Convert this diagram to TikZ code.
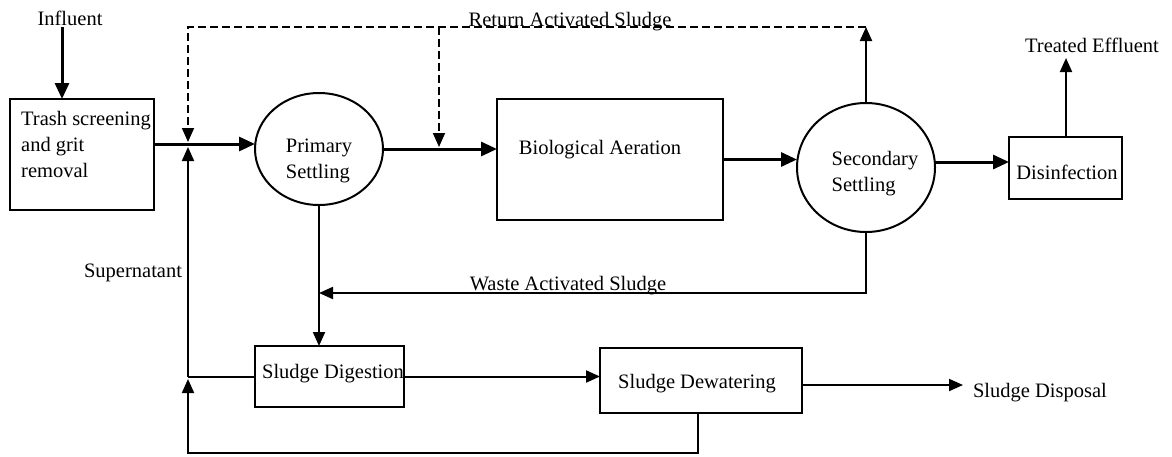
\documentclass[tikz,border=0pt]{standalone}
\usepackage{fontspec}
\setmainfont{Liberation Serif}
\usetikzlibrary{arrows.meta,shapes.geometric}
\begin{document}
\begin{tikzpicture}[x=1pt,y=-1pt,
  every node/.style={font=\fontsize{20.5}{26}\selectfont, inner sep=0pt, outer sep=0pt},
  box/.style={draw, line width=2pt, rectangle},
  tank/.style={draw, line width=2pt, ellipse},
  bigtip/.style={-{Triangle[length=16pt,width=14pt]}},
  smalltip/.style={-{Triangle[length=14pt,width=12pt]}},
  mainarrow/.style={line width=3pt, bigtip},
  mainline/.style={line width=3pt},
  thinarrow/.style={line width=2pt, smalltip},
  thinline/.style={line width=2pt},
  dashline/.style={line width=1.7pt, dash pattern=on 8pt off 4pt, smalltip}
]
\useasboundingbox (0,0) rectangle (1172,456);

% process units
\node[box, minimum width=144pt, minimum height=111pt] (trash) at (82,154.5) {};
\node[align=left] (trashtxt) at (86,144) {Trash screening\\and grit\\removal};

\node[tank, minimum width=128pt, minimum height=112pt] (prim) at (319,149) {};
\node[align=left] (primtxt) at (319,161) {Primary\\Settling};

\node[box, minimum width=226pt, minimum height=121pt] (bio) at (610,159.5) {};
\node (biotxt) at (600,150) {Biological Aeration};

\node[tank, minimum width=138pt, minimum height=129pt] (sec) at (866,167.5) {};
\node[align=left] (sectxt) at (875,174) {Secondary\\Settling};

\node[box, minimum width=113pt, minimum height=62pt] (dis) at (1065.5,168) {};
\node (distxt) at (1067,172) {Disinfection};

\node[box, minimum width=149pt, minimum height=61pt] (dig) at (329.5,376.5) {};
\node (digtxt) at (333,374) {Sludge Digestion};

\node[box, minimum width=202pt, minimum height=65pt] (dew) at (701,380.5) {};
\node (dewtxt) at (697,384) {Sludge Dewatering};

% labels
\node (influent) at (70,18) {Influent};
\node (treated) at (1092,45) {Treated Effluent};
\node[anchor=base] (ras) at (570,26) {Return Activated Sludge};
\node[anchor=base] (was) at (568,290) {Waste Activated Sludge};
\node[anchor=base east] (sup) at (182,277) {Supernatant};
\node[anchor=base west] (disp) at (973,397) {Sludge Disposal};

% junctions and bends
\coordinate (j1) at (188,144);
\coordinate (j1top) at (188,142);
\coordinate (j1bot) at (188,147);
\coordinate (j2) at (188,376.5);
\coordinate (j2bot) at (188,379);
\coordinate (rtop) at (188,27);
\coordinate (rr) at (866,27);
\coordinate (rmid) at (439,27);
\coordinate (rmidend) at (439,147);
\coordinate (infl) at (62,27);
\coordinate (wc) at (866,293);
\coordinate (teend) at (1066,58);
\coordinate (b1) at (698,453);
\coordinate (b2) at (188,453);
\coordinate (ds) at (802,385);
\coordinate (dsend) at (963,385);
\coordinate (sd1) at (935,162);

% main flow
\draw[mainarrow] (infl) -- (infl |- trash.north);
\draw[mainline] (trash.east |- j1) -- (j1);
\draw[mainarrow] (j1) -- (j1 -| prim.west);
\draw[mainarrow] (prim.east) -- (prim.east -| bio.west);
\draw[mainarrow] (bio.east) -- (bio.east -| sec.west);
\draw[mainarrow] (sd1) -- (sd1 -| dis.west);
\draw[thinarrow] (dis.north -| teend) -- (teend);

% return activated sludge
\draw[thinarrow] (sec.north) -- (rr);
\draw[dashline] (rr) -- (rtop) -- (j1top);
\draw[dashline] (rmid) -- (rmidend);

% waste activated sludge and sludge line
\draw[thinarrow] (sec.south) -- (wc) -- (wc -| prim.south);
\draw[thinarrow] (prim.south) -- (prim.south |- dig.north);
\draw[thinarrow] (dig.east) -- (dig.east -| dew.west);
\draw[thinarrow] (ds) -- (dsend);

% supernatant returns
\draw[thinline] (dig.west) -- (j2);
\draw[thinarrow] (j2) -- (j1bot);
\draw[thinarrow] (dew.south -| b1) -- (b1) -- (b2) -- (j2bot);
\end{tikzpicture}
\end{document}
